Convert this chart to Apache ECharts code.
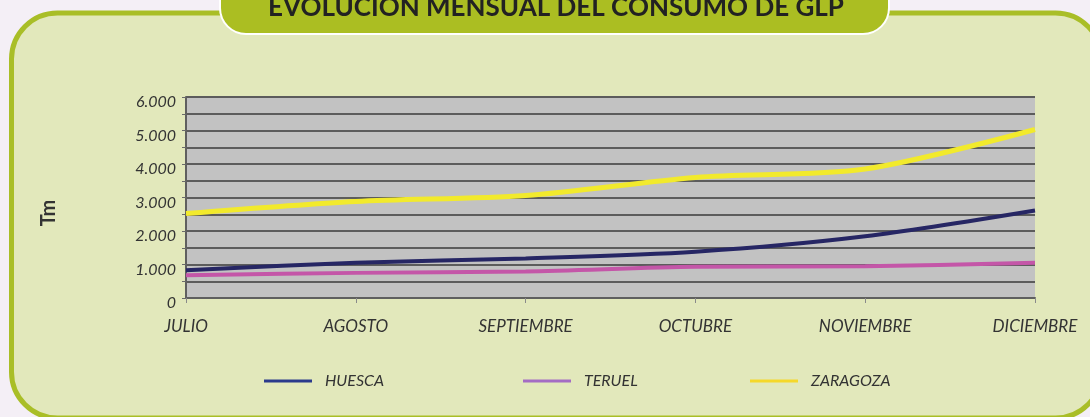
<!DOCTYPE html>
<html>
<head>
<meta charset="utf-8">
<title>Evolución mensual del consumo de GLP</title>
<script src="https://cdn.jsdelivr.net/npm/echarts@6/dist/echarts.min.js"></script>
<style>
  html, body { margin: 0; padding: 0; background: #f4eff6; }
  #chart { width: 1090px; height: 417px; }
</style>
</head>
<body>
<div id="chart"></div>
<script>
// datos (Tm)
const meses = ['JULIO', 'AGOSTO', 'SEPTIEMBRE', 'OCTUBRE', 'NOVIEMBRE', 'DICIEMBRE']
const huesca = [830, 1050, 1180, 1380, 1840, 2610]
const teruel = [680, 750, 790, 930, 950, 1050]
const zaragoza = [2520, 2880, 3060, 3600, 3850, 5030]
const yTicks = [0, 1000, 2000, 3000, 4000, 5000, 6000]
const yTickLabels = ['0', '1.000', '2.000', '3.000', '4.000', '5.000', '6.000']

const fuente = 'Lato, "Open Sans", sans-serif'
const chart = echarts.init(document.getElementById('chart'))

const leyenda = (name, color, left) => ({
  left: left,
  top: 368,
  icon: 'rect',
  itemWidth: 48,
  itemHeight: 3,
  textStyle: {
    fontFamily: fuente,
    fontStyle: 'italic',
    fontSize: 16,
    color: '#333',
    padding: [0, 0, 0, 8],
  },
  data: [{ name: name, itemStyle: { color: color } }],
})

chart.setOption({
  backgroundColor: '#f4eff6',
  animation: false,
  graphic: [
    {
      type: 'rect',
      z: -10,
      shape: { x: 11.5, y: 13, width: 1090, height: 405, r: 46 },
      style: { fill: '#e2e8bb', stroke: '#a9be27', lineWidth: 5 },
    },
    {
      type: 'rect',
      z: -5,
      shape: { x: 220, y: -30, width: 669, height: 64, r: [0, 0, 26, 26] },
      style: { fill: '#abbe22', stroke: '#ffffff', lineWidth: 2 },
    },
    {
      type: 'text',
      z: -4,
      x: 556,
      y: 8,
      style: {
        text: 'EVOLUCIÓN MENSUAL DEL CONSUMO DE GLP',
        fontFamily: fuente,
        fontWeight: 'bold',
        fontSize: 26,
        fill: '#222',
        align: 'center',
        verticalAlign: 'middle',
      },
    },
    {
      type: 'text',
      x: 49,
      y: 213,
      rotation: Math.PI / 2,
      style: {
        text: 'Tm',
        fontFamily: fuente,
        fontWeight: 'bold',
        fontSize: 20,
        fill: '#333',
        align: 'center',
        verticalAlign: 'middle',
      },
    },
  ],
  grid: {
    left: 186,
    right: 55,
    top: 97,
    bottom: 119,
    show: true,
    backgroundColor: '#c2c2c2',
    borderWidth: 0,
  },
  legend: [
    leyenda('HUESCA', '#2b3a8c', 259),
    leyenda('TERUEL', '#a46cc4', 518),
    leyenda('ZARAGOZA', '#f5d82a', 745),
  ],
  xAxis: {
    type: 'category',
    data: meses,
    boundaryGap: false,
    axisLine: { show: true, lineStyle: { color: '#5f5f5f', width: 2 } },
    axisTick: { show: true, length: 5, lineStyle: { color: '#8a8a8a' } },
    axisLabel: {
      margin: 20,
      fontFamily: fuente,
      fontStyle: 'italic',
      fontSize: 17,
      color: '#333',
    },
  },
  yAxis: {
    type: 'value',
    min: 0,
    max: 6000,
    interval: 500,
    axisLine: { show: true, lineStyle: { color: '#5f5f5f', width: 2 } },
    axisTick: { show: true, length: 4, lineStyle: { color: '#6a6a6a' } },
    splitLine: { show: true, lineStyle: { color: '#5c5c5c', width: 2 } },
    axisLabel: {
      margin: 10,
      verticalAlign: 'top',
      lineHeight: 10,
      fontFamily: fuente,
      fontStyle: 'italic',
      fontSize: 16,
      color: '#333',
      formatter: (v) => {
        const i = yTicks.indexOf(v)
        return i >= 0 ? yTickLabels[i] : ''
      },
    },
  },
  series: [
    {
      name: 'HUESCA',
      type: 'line',
      data: huesca,
      smooth: 0.3,
      symbol: 'none',
      lineStyle: { color: '#262664', width: 4 },
      z: 3,
    },
    {
      name: 'TERUEL',
      type: 'line',
      data: teruel,
      smooth: 0.3,
      symbol: 'none',
      lineStyle: { color: '#c456a8', width: 4 },
      z: 2,
    },
    {
      name: 'ZARAGOZA',
      type: 'line',
      data: zaragoza,
      smooth: 0.3,
      symbol: 'none',
      lineStyle: { color: '#f2ea2c', width: 5 },
      z: 4,
    },
  ],
})
</script>
</body>
</html>
